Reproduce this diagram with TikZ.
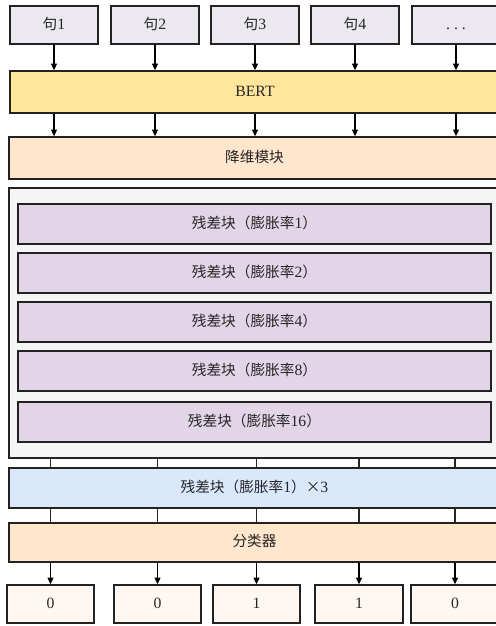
\documentclass[tikz,border=0pt]{standalone}
\usepackage{fontspec}
\setmainfont[Scale=1.07]{Liberation Serif}
\newfontfamily\cjk{Noto Sans CJK SC}
\usetikzlibrary{fit,arrows.meta}
\definecolor{topc}{HTML}{EBE8F0}
\definecolor{bertc}{HTML}{FFE69C}
\definecolor{dimc}{HTML}{FFE6CC}
\definecolor{contc}{HTML}{F5F5F5}
\definecolor{resc}{HTML}{E1D5E7}
\definecolor{bluec}{HTML}{DAE8FC}
\definecolor{outc}{HTML}{FFF8F2}
\definecolor{edgec}{HTML}{222222}
\tikzset{
  box/.style={draw=edgec, line width=1.1pt, inner sep=0pt, rectangle},
  lbl/.style={font=\fontsize{11pt}{13pt}\selectfont, text=black!85, text height=8.5pt, text depth=2pt},
  arr/.style={draw=black, line width=0.8pt, -{Triangle[length=5pt,width=4.5pt]}},
  link/.style={draw=black!85, line width=0.8pt},
}
\newcommand{\zh}[1]{{\cjk #1}}
\begin{document}
\begin{tikzpicture}[x=0.75pt,y=-0.75pt]
\useasboundingbox (0,0) rectangle (496,626);
\clip (0,0) rectangle (496,626);
% top inputs
\node[box, fill=topc, fit={(10,6)(98,44)}, label={[lbl]center:\zh{句}1}] (t1) {};
\node[box, fill=topc, fit={(111,6)(199,44)}, label={[lbl]center:\zh{句}2}] (t2) {};
\node[box, fill=topc, fit={(211,6)(299,44)}, label={[lbl]center:\zh{句}3}] (t3) {};
\node[box, fill=topc, fit={(311,6)(399,44)}, label={[lbl]center:\zh{句}4}] (t4) {};
\node[box, fill=topc, fit={(412,6)(500,44)}, label={[lbl]center:.\hspace{3pt}.\hspace{3pt}.}] (t5) {};
% BERT
\node[box, fill=bertc, fit={(10,71)(500,113)}, label={[lbl]center:BERT}] (bert) {};
% dim reduction
\node[box, fill=dimc, fit={(9,137)(500,179)}, label={[lbl]center:\zh{降维模块}}] (dim) {};
% container
\node[box, fill=contc, fit={(9,188)(500,458)}] (cont) {};
\node[box, fill=resc, fit={(18,204)(491,244)}, label={[lbl]center:\zh{残差块（膨胀率}1\zh{）}}] (r1) {};
\node[box, fill=resc, fit={(18,253)(491,293)}, label={[lbl]center:\zh{残差块（膨胀率}2\zh{）}}] (r2) {};
\node[box, fill=resc, fit={(18,302)(491,342)}, label={[lbl]center:\zh{残差块（膨胀率}4\zh{）}}] (r3) {};
\node[box, fill=resc, fit={(18,351)(491,391)}, label={[lbl]center:\zh{残差块（膨胀率}8\zh{）}}] (r4) {};
\node[box, fill=resc, fit={(18,402)(491,442)}, label={[lbl]center:\zh{残差块（膨胀率}16\zh{）}}] (r5) {};
% blue
\node[box, fill=bluec, fit={(9,468)(500,508)}, label={[lbl]center:\zh{残差块（膨胀率}1\zh{）×}3}] (rb) {};
% classifier
\node[box, fill=dimc, fit={(9,523)(500,562)}, label={[lbl]center:\zh{分类器}}] (cls) {};
% outputs
\node[box, fill=outc, fit={(7,585)(94,623)}, label={[lbl]center:0}] (o1) {};
\node[box, fill=outc, fit={(114,585)(201,623)}, label={[lbl]center:0}] (o2) {};
\node[box, fill=outc, fit={(213,585)(300,623)}, label={[lbl]center:1}] (o3) {};
\node[box, fill=outc, fit={(315,585)(403,623)}, label={[lbl]center:1}] (o4) {};
\node[box, fill=outc, fit={(411,585)(499,623)}, label={[lbl]center:0}] (o5) {};
% connectors
\foreach \i in {1,...,5}{
  \draw[arr] (t\i.south) -- (t\i.south |- bert.north);
  \draw[arr] (t\i.south |- bert.south) -- (t\i.south |- dim.north);
  \draw[link] (o\i.north |- cont.south) -- (o\i.north |- rb.north);
  \draw[link] (o\i.north |- rb.south) -- (o\i.north |- cls.north);
  \draw[arr] (o\i.north |- cls.south) -- (o\i.north);
}
\end{tikzpicture}
\end{document}
